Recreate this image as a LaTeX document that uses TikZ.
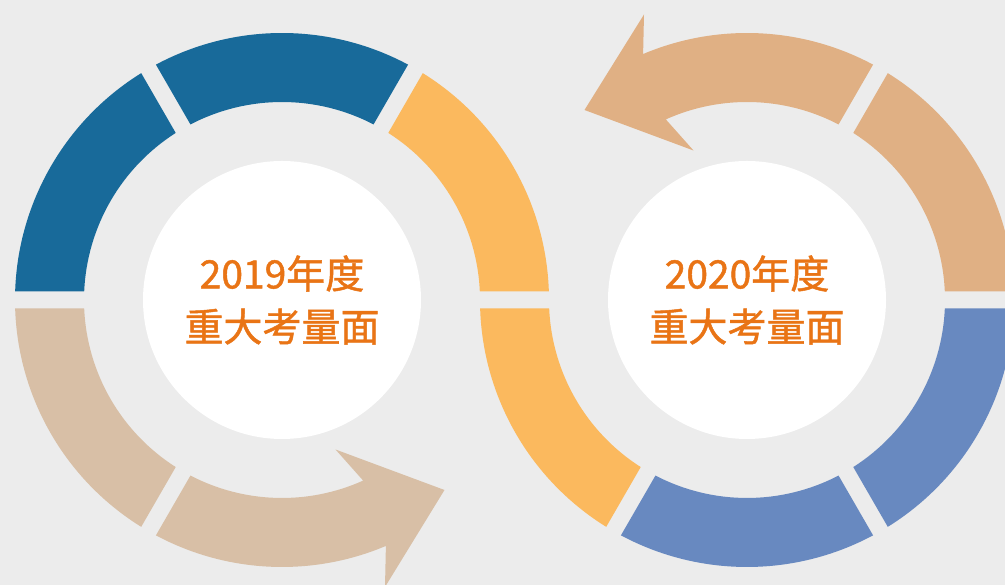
\documentclass[tikz,border=0pt]{standalone}
\usepackage{fontspec}
\newfontfamily\cjkfont[FakeBold=1.2]{Noto Sans CJK SC}
\usetikzlibrary{calc}
\definecolor{bgcol}{RGB}{236,236,236}
\definecolor{darkblue}{RGB}{24,106,154}
\definecolor{yelcol}{RGB}{251,185,94}
\definecolor{beigeL}{RGB}{216,191,166}
\definecolor{beigeR}{RGB}{224,176,132}
\definecolor{blueR}{RGB}{104,137,192}
\definecolor{txtcol}{RGB}{233,116,21}
\def\rout{267}
\def\rinn{198}
\def\gapd{8.5}
\newcommand\ringseg[4]{%
  \fill[#4] ($(#1)+({#2+asin(\gapd/\rout)}:\rout)$)
    arc[start angle={#2+asin(\gapd/\rout)}, end angle={#3-asin(\gapd/\rout)}, radius=\rout pt]
    -- ($(#1)+({#3-asin(\gapd/\rinn)}:\rinn)$)
    arc[start angle={#3-asin(\gapd/\rinn)}, end angle={#2+asin(\gapd/\rinn)}, radius=\rinn pt]
    -- cycle;}
\tikzset{
  label text/.style={font=\cjkfont\fontsize{39}{53}\selectfont, text=txtcol, align=center},
  inner disc/.style={fill=white}
}
\begin{document}
\begin{tikzpicture}[x=1pt,y=1pt]
\useasboundingbox (0,0) rectangle (1005,585);
\fill[bgcol] (0,0) rectangle (1005,585);
\begin{scope}
\clip (0,0) rectangle (1005,585);
\coordinate (L) at (282,285);
\coordinate (R) at (747,285);
% left ring
\ringseg{L}{0}{60}{yelcol}
\ringseg{L}{60}{120}{darkblue}
\ringseg{L}{120}{180}{darkblue}
\ringseg{L}{180}{240}{beigeL}
\fill[beigeL] ($(L)+({240+asin(\gapd/\rout)}:\rout)$)
  arc[start angle={240+asin(\gapd/\rout)}, end angle=292.9, radius=\rout pt]
  -- ($(L)+(103,-287)$) -- ($(L)+(162.5,-190)$) -- ($(L)+(53.5,-149.5)$)
  -- ($(L)+(294.2:\rinn)$)
  arc[start angle=294.2, end angle={240+asin(\gapd/\rinn)}, radius=\rinn pt]
  -- cycle;
% right ring
\ringseg{R}{180}{240}{yelcol}
\ringseg{R}{240}{300}{blueR}
\ringseg{R}{300}{360}{blueR}
\ringseg{R}{0}{60}{beigeR}
\fill[beigeR] ($(R)+({60+asin(\gapd/\rout)}:\rout)$)
  arc[start angle={60+asin(\gapd/\rout)}, end angle=112.9, radius=\rout pt]
  -- ($(R)+(-103,285.5)$) -- ($(R)+(-162.5,190)$) -- ($(R)+(-53.5,149.5)$)
  -- ($(R)+(114.2:\rinn)$)
  arc[start angle=114.2, end angle={60+asin(\gapd/\rinn)}, radius=\rinn pt]
  -- cycle;
\fill[inner disc] (L) circle[radius=139pt];
\fill[inner disc] (R) circle[radius=139pt];
\end{scope}
\node[label text] (t19) at ($(L)+(0,0)$) {2019年度\\重大考量面};
\node[label text] (t20) at ($(R)+(0,0)$) {2020年度\\重大考量面};
\end{tikzpicture}
\end{document}
